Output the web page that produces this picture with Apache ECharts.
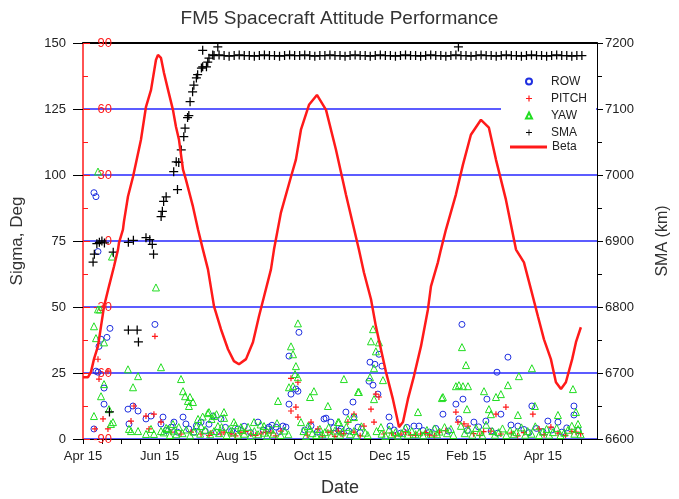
<!DOCTYPE html>
<html>
<head>
<meta charset="utf-8">
<script src="https://cdn.jsdelivr.net/npm/echarts@6/dist/echarts.min.js"></script>
<style>
  html, body { margin: 0; padding: 0; background: #fff; }
  #chart { width: 679px; height: 499px; }
</style>
</head>
<body>
<div id="chart"></div>
<script>
// x values are days after Apr 15
var xTickLabels = ['Apr 15', 'Jun 15', 'Aug 15', 'Oct 15', 'Dec 15', 'Feb 15', 'Apr 15'];
var xStep = 365 / 24;

// beta angle (deg), red line on the inner left axis
var betaData = [
  [0, -61.9], [4, -61.9], [6.3, -59.6], [8.7, -53.7], [11.9, -47.8], [14.3, -38.8], [16.7, -29.7],
  [20.6, -20.6], [24.6, -11.6], [27.8, -3.9], [28.6, -0.7], [31.7, 5.2], [32.5, 8.8], [35.7, 20.2],
  [39.7, 29.2], [42.1, 35.6], [46, 46], [50, 61], [54, 68.7], [57.9, 82.3], [59.5, 84.6], [61.9, 83.2],
  [64.3, 76.4], [67.5, 68.7], [71.4, 59.6], [73.8, 51.9], [76.2, 46], [79.4, 32.4], [81.7, 27.9],
  [87.3, 15.6], [91.3, 5.2], [95.2, -3.9], [99.2, -12.9], [104, -29.7], [109.5, -40.1], [115.1, -49.2],
  [119.8, -54.6], [123.8, -56], [129.4, -53.7], [134.9, -46], [139.7, -34.2], [143.7, -25.2],
  [149.2, -12.9], [151.6, -3.9], [157.1, 12.9], [165.1, 29.2], [169, 37], [173, 50.6], [179.4, 61.9],
  [185.7, 66.4], [192.9, 59.6], [200.8, 41.5], [208.7, 21.1], [219, -3.9], [223, -14.3], [228.6, -26.5],
  [232.5, -38.8], [236.5, -49.2], [240.5, -59.6], [246, -71.9], [250, -82.3], [250.8, -84.6], [254, -82.3],
  [257.9, -71.9], [262.7, -61.4], [268.3, -47.8], [273.8, -31.1], [276.2, -20.6], [281.7, -9.7],
  [284.1, -3.9], [288.1, 5.2], [296, 21.1], [301.6, 34.7], [307.9, 48.3], [315.9, 55.1], [322.2, 51.5],
  [327.8, 37], [335.7, 18.8], [343.7, -3.9], [350, -9.7], [355.6, -22], [361.1, -34.2], [365.9, -44.7],
  [371.4, -53.7], [375.4, -64.2], [379.4, -67.3], [383.3, -64.2], [388.3, -53.7], [391.3, -46], [395.2, -39.2]
];

// semi-major axis (km), black crosses on the right axis
var smaData = [
  [8, 6868], [9, 6880], [11, 6896], [13, 6898], [15, 6900], [17, 6897], [24, 6883], [21, 6641],
  [36, 6898], [40, 6901], [36, 6765], [43, 6765], [44, 6747], [50, 6905], [53, 6902], [55, 6895], [56, 6880],
  [62, 6937], [63, 6945], [64, 6960], [66, 6967], [72, 7005], [74, 7020], [75, 6978], [76, 7019],
  [78, 7038], [80, 7058], [81, 7071], [83, 7087], [84, 7090], [85, 7111], [87, 7126], [88, 7136],
  [90, 7147], [91, 7152], [94, 7162], [95, 7164], [98, 7164], [99, 7171], [100, 7177], [95, 7189],
  [103, 7182], [107, 7194], [298, 7194],
  [104, 7181], [108, 7182], [112, 7181], [116, 7180], [120, 7181], [124, 7182], [128, 7181], [132, 7181],
  [136, 7180], [140, 7181], [144, 7182], [148, 7181], [152, 7181], [156, 7180], [160, 7181], [164, 7182],
  [168, 7181], [172, 7181], [176, 7182], [180, 7181], [184, 7180], [188, 7181], [192, 7181], [196, 7182],
  [200, 7181], [204, 7181], [208, 7180], [212, 7181], [216, 7182], [220, 7181], [224, 7181], [228, 7180],
  [232, 7181], [236, 7182], [240, 7181], [244, 7181], [248, 7180], [252, 7181], [256, 7182], [260, 7181],
  [264, 7181], [268, 7180], [272, 7181], [276, 7182], [280, 7181], [284, 7181], [288, 7180], [292, 7181],
  [296, 7182], [300, 7181], [304, 7181], [308, 7180], [312, 7181], [316, 7182], [320, 7181], [324, 7181],
  [328, 7180], [332, 7181], [336, 7182], [340, 7181], [344, 7181], [348, 7180], [352, 7181], [356, 7182],
  [360, 7181], [364, 7181], [368, 7180], [372, 7181], [376, 7182], [380, 7181], [384, 7181], [388, 7180],
  [392, 7181], [396, 7181]
];

// roll sigma (deg), blue circles
var rowData = [
  [8.7, 93.3], [10.3, 91.8], [11.9, 71], [12.7, 35.1], [14.3, 37.8], [19, 38.5], [21.4, 41.9], [10.3, 25.7],
  [11.9, 25.3], [16.7, 13.2], [16.7, 19.3], [8.7, 3.8], [35.7, 11.3], [39.7, 12.5], [43.7, 10.6], [36.5, 5.7],
  [50, 7.6], [54, 8.7], [57.1, 43.4],
  [61.9, 5.7], [63.5, 8.3], [72.2, 6.4], [79.4, 8.3], [81.7, 5.7], [88.1, 2.6], [93.7, 6.4], [109.5, 7.6],
  [103.2, 8.7], [123, 3.8], [138.9, 6.4], [146.8, 3.8], [147.6, 4.5], [153.2, 4.5], [158.7, 4.9], [161.1, 4.5],
  [163.5, 13.2], [165.1, 17], [169, 18.9], [170.6, 18.1], [163.5, 31.4], [171.4, 40.4], [191.3, 7.6],
  [196.8, 6.4], [208.7, 10.2], [214.3, 14], [204.8, 3.8],
  [227.8, 29.1], [231.7, 28.3], [237.3, 27.6], [234.9, 32.1], [227, 21.9], [230.2, 20.4], [234.1, 17],
  [215.1, 8.3], [218.3, 4.5], [192.9, 7.9], [242.9, 8.3], [243.7, 4.9], [262.7, 4.9], [266.7, 4.9],
  [285.7, 9.4], [203.2, 3],
  [300.8, 43.4], [337.3, 31], [328.6, 25.3], [301.6, 15.1], [296, 13.2], [320.6, 15.1], [356.3, 12.5],
  [389.7, 9.1], [331.7, 9.4], [319.8, 6.8], [310.3, 6.4], [339.7, 5.3], [345.2, 4.9], [369, 6.8], [377, 6.4],
  [298.4, 7.6], [389.7, 12.5],
  [66, 3.2], [70, 4.5], [75, 2.6], [84, 3.8], [90, 5], [97, 3], [100, 5.6], [106, 2.6], [113, 4.4], [118, 3],
  [128, 4.8], [133, 2.4], [143, 3.4], [150, 5.2], [156, 2.8], [176, 3.4], [181, 5], [186, 2.6], [199, 4.2],
  [211, 3], [220, 2.4], [247, 3.4], [252, 2.2], [257, 4.4], [270, 3.2], [275, 2.6], [280, 4], [290, 3],
  [305, 3.2], [314, 4.6], [324, 3], [329, 2.2], [350, 3.6], [354, 2.4], [360, 4], [365, 2.8], [372, 3.4],
  [380, 2.6], [384, 4.2], [393, 3.2]
];

// pitch sigma (deg), red plus
var pitchData = [
  [11.9, 30.2], [12.7, 22.7], [19.8, 25.7], [15.9, 7.6], [19.8, 3.8], [40.5, 12.5], [38.1, 6.8], [50, 8.7],
  [52.4, 3.8], [57.1, 38.9], [9.5, 3.8],
  [56.3, 9.4], [61.9, 6.4], [69.8, 2.6], [77.8, 1.9], [85.7, 2.6], [93.7, 1.9], [101.6, 2.3], [109.5, 1.9],
  [117.5, 1.9], [125.4, 2.3], [133.3, 1.9], [141.3, 1.9], [149.2, 2.3], [157.1, 3], [165.1, 23],
  [170.6, 21.5], [169, 12.1], [165.1, 10.6], [170.6, 8.3], [181, 6.4], [186.5, 3.8], [194.4, 2.6],
  [202.4, 3], [210.3, 6.4], [215.1, 9.4],
  [232.5, 17], [234.9, 15.9], [231, 6.4], [228.6, 11.3], [223, 4.9], [215.1, 2.6], [204.8, 1.9],
  [196.8, 2.6], [238.9, 1.9], [252.4, 1.9], [260, 1.5], [268, 1.9], [275, 1.5], [283, 2.6],
  [296, 10.2], [297.6, 6.4], [302.4, 5.7], [305.6, 4.9], [335.7, 12.1], [327.8, 9.4], [357.1, 9.4],
  [323.8, 3], [331.7, 1.9], [361.9, 3.8], [371.4, 4.5], [391.3, 2.6],
  [100, 1.4], [112, 2.6], [121, 1.2], [129, 2.8], [137, 1.4], [145, 2.6], [153, 1.2], [178, 1.5], [190, 1.2],
  [200, 1], [207, 2], [220, 1.2], [245, 2.2], [248, 1.2], [256, 2.6], [264, 1.4], [272, 2.4], [279, 1.2],
  [288, 3.2], [310, 2], [315, 1.4], [318, 2.8], [340, 2.2], [345, 1.2], [350, 2.4], [366, 1.6], [377, 2.2],
  [383, 1.4], [388, 2.8], [395, 2]
];

// yaw sigma (deg), green triangles
var yawData = [
  [11.9, 101.3], [23, 69.1], [57.9, 57.4], [11.9, 49.1], [13.5, 49.1], [8.7, 42.7], [10.3, 38.2], [16.7, 36.6],
  [61.9, 27.2], [35.7, 26.4], [43.7, 23.8], [39.7, 19.6], [16.7, 20.8], [14.3, 16.2], [20.6, 11.3], [8.7, 8.7],
  [22.2, 5.7], [23.8, 6.4], [36.5, 3.8], [38.1, 3], [43.7, 3], [50, 1.9], [54, 3.8], [56.3, 1.9],
  [61.9, 3], [67.5, 3.8], [71.4, 5.7], [77.8, 22.7], [79.4, 18.1], [81, 16.2], [83.3, 14.4], [84.9, 15.9],
  [87.3, 14], [84.1, 12.5], [91.3, 7.6], [93.7, 4.9], [100, 10.2], [104, 8.7], [111.9, 10.2], [107.1, 4.9],
  [119.8, 6.4], [125.4, 4.5], [135.7, 6.4], [143.7, 4.9], [154.8, 14.4], [170.6, 43.8], [165.1, 35.1],
  [166.7, 32.1], [169, 27.6], [168.3, 24.6], [163.5, 19.6], [166.7, 20], [170.6, 23.4], [173, 6.4],
  [178.6, 4.9], [183.3, 18.1], [180.2, 15.9], [194.4, 12.5], [202.4, 6.4], [207.1, 22.7], [210.3, 7.6],
  [218.3, 17.8],
  [230.2, 41.6], [228.6, 37], [232.5, 33.2], [234.9, 36.6], [231, 26.8], [227.8, 23.4], [238.1, 22.3],
  [219, 17.8], [231, 15.1], [265.9, 10.2], [284.9, 15.5], [215.1, 8.3], [203.2, 6.4], [236.5, 4.5],
  [300.8, 34.8], [304, 28], [285.7, 15.9], [296, 20], [298.4, 20.4], [301.6, 20], [305.6, 20], [318.3, 18.1],
  [327.8, 15.9], [331.7, 17], [337.3, 20.4], [346, 23.8], [356.3, 26.8], [388.9, 18.9], [304.8, 11.3],
  [322.2, 11.3], [323.8, 9.4], [345.2, 9.1], [358.7, 12.5], [377, 9.1], [392.9, 5.7], [391.3, 10.2],
  [64, 2.5], [66, 4.2], [69, 1.5], [72, 3.2], [74, 1.8], [76, 4.5], [79, 2.2], [82, 3.6], [85, 1.4], [88, 2.8],
  [90, 4.8], [93, 2], [95, 8.5], [97, 3.5], [99, 9.8], [101, 1.8], [102, 7.6], [104, 3], [106, 9.4], [108, 2.2],
  [110, 4.5], [112, 8], [114, 1.5], [116, 3.8], [118, 2.5], [121, 5.2], [123, 1.6], [126, 3.4], [128, 2],
  [131, 4.6], [133, 1.2], [136, 3], [139, 1.8], [141, 5.5], [144, 2.4], [146, 1.2], [149, 3.6], [151, 2],
  [154, 6], [157, 1.5], [160, 3.2], [163, 1.8], [175, 3], [177, 1.2], [180, 4], [182, 2.2], [185, 1.5],
  [188, 3.8], [190, 1.8], [192, 2.6], [195, 4.4], [197, 1.4], [200, 3.2], [204, 1.6], [206, 2.8], [209, 4.6],
  [212, 1.8], [215, 3], [217, 1.2], [221, 4.8], [224, 2.4], [226, 1.5], [233, 3], [237, 2], [240, 1.2],
  [243, 3.6], [245, 1.8], [248, 2.6], [250, 1.3], [253, 2.2], [256, 4.2], [258, 1.6], [261, 3], [264, 1.8],
  [267, 2.6], [270, 1.4], [273, 3.4], [276, 2], [279, 4], [281, 1.8], [283, 2.8], [287, 4.5], [289, 2.2],
  [292, 3.8], [294, 1.5], [300, 5], [303, 2.2], [306, 3.6], [309, 1.6], [312, 4.2], [315, 2.6], [317, 1.4],
  [320, 5.4], [325, 3], [327, 1.6], [330, 2.6], [333, 4], [336, 1.5], [339, 3.2], [342, 1.8], [344, 2.6],
  [348, 4.4], [351, 1.6], [353, 3], [356, 2], [359, 4.8], [362, 1.5], [365, 2.8], [368, 3.8], [370, 1.6],
  [373, 2.6], [376, 4.2], [379, 1.5], [382, 2.4], [385, 3.5], [388, 5], [390, 2], [393, 3.8], [395, 1.8]
];

var FONT = 'Liberation Sans, Arial, sans-serif';
var BLUE = '#1f2fe0';
var RED = '#ff1a1a';
var GREEN = '#22dd22';
var GRIDBLUE = '#2626ff';
var PLUS = 'path://M4,0H6V4H10V6H6V10H4V6H0V4H4Z';
var PLUS_THIN = 'path://M4.3,0H5.7V4.3H10V5.7H5.7V10H4.3V5.7H0V4.3H4.3Z';

var chart = echarts.init(document.getElementById('chart'), null, { renderer: 'canvas' });

chart.setOption({
  animation: false,
  backgroundColor: '#fff',
  title: {
    text: 'FM5 Spacecraft Attitude Performance',
    left: 'center',
    top: 4,
    textStyle: { fontFamily: FONT, fontSize: 19, fontWeight: 'normal', color: '#333' }
  },
  grid: { left: 83, right: 82, top: 43, bottom: 60, outerBoundsMode: 'none', containLabel: false },
  legend: [{
    orient: 'vertical',
    left: 525,
    top: 75,
    padding: 0,
    itemWidth: 6,
    itemHeight: 6,
    itemGap: 4,
    data: ['ROW', 'PITCH', 'YAW', 'SMA'],
    textStyle: { fontFamily: FONT, fontSize: 12, color: '#222', lineHeight: 13, padding: [0, 0, 0, 14] }
  }, {
    orient: 'vertical',
    left: 510,
    top: 141,
    padding: 0,
    itemWidth: 37,
    itemHeight: 3,
    data: [{ name: 'Beta', icon: 'rect' }],
    textStyle: { fontFamily: FONT, fontSize: 12, color: '#222' }
  }],
  graphic: [{
    type: 'rect',
    z: 1,
    shape: { x: 501, y: 103, width: 95, height: 12 },
    style: { fill: '#fff' }
  }],
  xAxis: [{
    type: 'value',
    min: 0,
    max: 408,
    interval: xStep,
    name: 'Date',
    nameLocation: 'middle',
    nameGap: 40,
    nameTextStyle: { fontFamily: FONT, fontSize: 18, color: '#333' },
    axisLine: { onZero: false, lineStyle: { color: '#000', width: 1 } },
    axisTick: { length: 5, lineStyle: { color: '#000' } },
    axisLabel: {
      fontFamily: FONT, fontSize: 13, color: '#222', margin: 11, showMaxLabel: false,
      formatter: function (v) {
        var i = Math.round(v / xStep);
        if (Math.abs(v - i * xStep) > 0.01 || i % 4 !== 0) return '';
        return xTickLabels[i / 4] || '';
      }
    },
    splitLine: { show: false }
  }, {
    type: 'value',
    position: 'top',
    min: 0,
    max: 408,
    axisLine: { onZero: false, lineStyle: { color: '#000', width: 2 } },
    axisTick: { show: false },
    axisLabel: { show: false },
    splitLine: { show: false }
  }],
  yAxis: [{
    type: 'value',
    min: 0,
    max: 150,
    interval: 25,
    position: 'left',
    name: 'Sigma, Deg',
    nameLocation: 'middle',
    nameGap: 57,
    nameTextStyle: { fontFamily: FONT, fontSize: 17, color: '#333' },
    axisLine: { show: false, onZero: false },
    axisTick: { show: true, length: 10, lineStyle: { color: '#000' } },
    axisLabel: { fontFamily: FONT, fontSize: 13, color: '#222', margin: 17 },
    splitLine: { show: true, lineStyle: { color: GRIDBLUE, width: 1.5, opacity: 1 } }
  }, {
    type: 'value',
    min: -90,
    max: 90,
    interval: 30,
    position: 'left',
    axisLine: { show: true, onZero: false, lineStyle: { color: RED, width: 1.5 } },
    axisTick: { show: true, inside: true, length: 7, lineStyle: { color: RED } },
    minorTick: { show: true, splitNumber: 2, length: 5, lineStyle: { color: RED } },
    axisLabel: { inside: true, align: 'right', margin: 29, fontFamily: FONT, fontSize: 13, color: RED },
    splitLine: { show: false }
  }, {
    type: 'value',
    min: 6600,
    max: 7200,
    interval: 100,
    position: 'right',
    name: 'SMA (km)',
    nameLocation: 'middle',
    nameGap: 58,
    nameTextStyle: { fontFamily: FONT, fontSize: 16, color: '#333' },
    axisLine: { show: true, onZero: false, lineStyle: { color: '#000', width: 1 } },
    axisTick: { show: true, length: 6, lineStyle: { color: '#000' } },
    minorTick: { show: true, splitNumber: 2, length: 5, lineStyle: { color: '#000' } },
    axisLabel: {
      fontFamily: FONT, fontSize: 13, color: '#222', margin: 8,
      formatter: function (v) { return String(v); }
    },
    splitLine: { show: false }
  }],
  series: [{
    name: 'ROW',
    type: 'scatter',
    yAxisIndex: 0,
    symbol: 'circle',
    symbolSize: 6,
    itemStyle: { color: 'rgba(255,255,255,0)', borderColor: BLUE, borderWidth: 1, opacity: 1 },
    data: rowData
  }, {
    name: 'PITCH',
    type: 'scatter',
    yAxisIndex: 0,
    symbol: PLUS,
    symbolSize: 6,
    itemStyle: { color: RED, opacity: 1 },
    data: pitchData
  }, {
    name: 'YAW',
    type: 'scatter',
    yAxisIndex: 0,
    symbol: 'triangle',
    symbolSize: 7,
    itemStyle: { color: 'rgba(255,255,255,0)', borderColor: GREEN, borderWidth: 1, opacity: 1 },
    data: yawData
  }, {
    name: 'SMA',
    type: 'scatter',
    yAxisIndex: 2,
    symbol: PLUS_THIN,
    symbolSize: 9,
    itemStyle: { color: '#000', opacity: 1 },
    data: smaData
  }, {
    name: 'Beta',
    type: 'line',
    yAxisIndex: 1,
    showSymbol: false,
    symbol: 'none',
    z: 5,
    lineStyle: { color: RED, width: 2.5 },
    itemStyle: { color: RED },
    data: betaData
  }]
});
</script>
</body>
</html>
